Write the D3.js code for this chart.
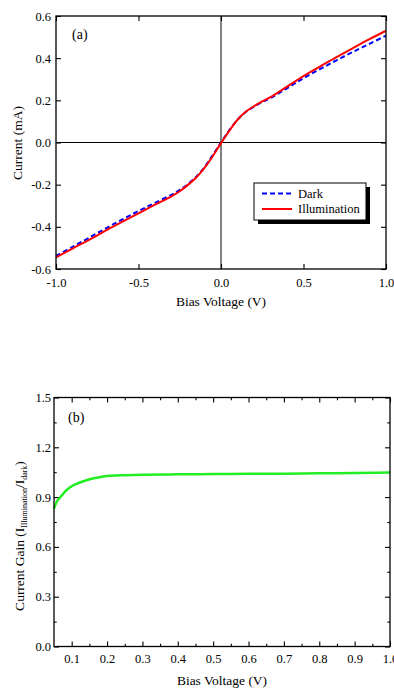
<!DOCTYPE html>
<html>
<head>
<meta charset="utf-8">
<script src="https://cdn.jsdelivr.net/npm/d3@7"></script>
<style>
  body { margin: 0; background: #fff; }
  svg { display: block; font-family: "Liberation Serif", "Times New Roman", serif; }
</style>
</head>
<body>
<script>
// panel (a): I-V curves
var voltage = [-1.0, -0.9, -0.8, -0.7, -0.6, -0.5, -0.4, -0.3, -0.25, -0.2, -0.15, -0.1, -0.05, 0,
  0.05, 0.1, 0.15, 0.2, 0.25, 0.3, 0.4, 0.5, 0.6, 0.7, 0.8, 0.9, 1.0];
var darkCurrent = [-0.538, -0.495, -0.452, -0.408, -0.366, -0.325, -0.286, -0.248, -0.225, -0.197, -0.162, -0.117, -0.06, 0.0,
  0.058, 0.108, 0.145, 0.170, 0.192, 0.211, 0.257, 0.305, 0.348, 0.39, 0.43, 0.468, 0.507];
var illumCurrent = [-0.545, -0.503, -0.462, -0.418, -0.377, -0.336, -0.295, -0.255, -0.231, -0.201, -0.166, -0.12, -0.065, -0.003,
  0.055, 0.108, 0.146, 0.172, 0.195, 0.215, 0.265, 0.315, 0.36, 0.405, 0.448, 0.49, 0.53];
var legendLabels = ["Dark", "Illumination"];
var xTicksA = [-1.0, -0.5, 0.0, 0.5, 1.0];
var yTicksA = [-0.6, -0.4, -0.2, 0.0, 0.2, 0.4, 0.6];

// panel (b): current gain
var gainVoltage = [0.05, 0.055, 0.06, 0.07, 0.08, 0.09, 0.1, 0.12, 0.14, 0.16, 0.18, 0.2, 0.25,
  0.3, 0.4, 0.5, 0.6, 0.7, 0.8, 0.9, 1.0];
var gainValues = [0.83, 0.86, 0.88, 0.905, 0.93, 0.95, 0.965, 0.985, 1.0, 1.012, 1.02, 1.027, 1.032,
  1.035, 1.037, 1.039, 1.04, 1.041, 1.043, 1.045, 1.048];
var xTicksB = [0.1, 0.2, 0.3, 0.4, 0.5, 0.6, 0.7, 0.8, 0.9, 1.0];
var xMinorB = [0.15, 0.25, 0.35, 0.45, 0.55, 0.65, 0.75, 0.85, 0.95];
var yTicksB = [0.0, 0.3, 0.6, 0.9, 1.2, 1.5];
var yMinorB = [0.15, 0.45, 0.75, 1.05, 1.35];

var fmt = function(d) { return d.toFixed(1); };

var svg = d3.select("body").append("svg")
  .attr("width", 394)
  .attr("height", 688);

function frameAxes(g, x, y, w, h, xt, yt, len) {
  g.append("g").attr("transform", "translate(0," + h + ")")
    .call(d3.axisBottom(x).tickValues(xt).tickSize(-len).tickFormat(""));
  g.append("g")
    .call(d3.axisTop(x).tickValues(xt).tickSize(-len).tickFormat(""));
  g.append("g")
    .call(d3.axisLeft(y).tickValues(yt).tickSize(-len).tickFormat(""));
  g.append("g").attr("transform", "translate(" + w + ",0)")
    .call(d3.axisRight(y).tickValues(yt).tickSize(-len).tickFormat(""));
}

function styleAxes(g) {
  g.selectAll(".domain").remove();
  g.selectAll(".tick line").attr("stroke", "#000").attr("stroke-width", 1.1);
  g.selectAll(".tick text").attr("font-family", "Liberation Serif, serif")
    .attr("font-size", 12.5).attr("fill", "#000");
}

// ---------- panel (a) ----------
var wA = 330, hA = 253;
var gA = svg.append("g").attr("transform", "translate(56,16)");
var xA = d3.scaleLinear().domain([-1, 1]).range([0, wA]);
var yA = d3.scaleLinear().domain([-0.6, 0.6]).range([hA, 0]);

frameAxes(gA, xA, yA, wA, hA, xTicksA, yTicksA, 5);
gA.append("g").attr("transform", "translate(0," + hA + ")")
  .call(d3.axisBottom(xA).tickValues(xTicksA).tickSize(0).tickPadding(9).tickFormat(fmt));
gA.append("g")
  .call(d3.axisLeft(yA).tickValues(yTicksA).tickSize(0).tickPadding(5).tickFormat(fmt));
styleAxes(gA);

// zero lines
gA.append("line").attr("x1", xA(0)).attr("x2", xA(0)).attr("y1", 0).attr("y2", hA)
  .attr("stroke", "#000").attr("stroke-width", 1);
gA.append("line").attr("x1", 0).attr("x2", wA).attr("y1", yA(0)).attr("y2", yA(0))
  .attr("stroke", "#000").attr("stroke-width", 1);

var lineA = function(vals) {
  return d3.line()
    .x(function(d, i) { return xA(voltage[i]); })
    .y(function(d) { return yA(d); })
    .curve(d3.curveCatmullRom.alpha(0.5))(vals);
};

gA.append("path").attr("d", lineA(darkCurrent))
  .attr("fill", "none").attr("stroke", "#0000ff").attr("stroke-width", 2)
  .attr("stroke-dasharray", "5,3");
gA.append("path").attr("d", lineA(illumCurrent))
  .attr("fill", "none").attr("stroke", "#ff0000").attr("stroke-width", 2);

gA.append("rect").attr("width", wA).attr("height", hA)
  .attr("fill", "none").attr("stroke", "#000").attr("stroke-width", 1.3);

gA.append("text").attr("x", 16).attr("y", 23).attr("font-size", 14).text("(a)");

// legend
var leg = gA.append("g").attr("transform", "translate(198,167)");
leg.append("rect").attr("x", 4).attr("y", 4).attr("width", 112).attr("height", 37).attr("fill", "#000");
leg.append("rect").attr("width", 112).attr("height", 37)
  .attr("fill", "#fff").attr("stroke", "#000").attr("stroke-width", 1);
legendLabels.forEach(function(lbl, i) {
  var yy = 10.5 + i * 15.5;
  leg.append("line").attr("x1", 8).attr("x2", 38).attr("y1", yy).attr("y2", yy)
    .attr("stroke", i === 0 ? "#0000ff" : "#ff0000").attr("stroke-width", 2)
    .attr("stroke-dasharray", i === 0 ? "5,3" : null);
  leg.append("text").attr("x", 44).attr("y", yy + 4).attr("font-size", 12.5).text(lbl);
});

// axis titles
svg.append("text").attr("x", 221).attr("y", 306).attr("text-anchor", "middle")
  .attr("font-size", 13.5).text("Bias Voltage (V)");
svg.append("text").attr("transform", "translate(22,143) rotate(-90)")
  .attr("text-anchor", "middle").attr("font-size", 13.5).text("Current (mA)");

// ---------- panel (b) ----------
var wB = 336, hB = 249;
var gB = svg.append("g").attr("transform", "translate(54,397.5)");
var xB = d3.scaleLinear().domain([0.05, 1.0]).range([0, wB]);
var yB = d3.scaleLinear().domain([0, 1.5]).range([hB, 0]);

frameAxes(gB, xB, yB, wB, hB, xTicksB, yTicksB, 5);
frameAxes(gB, xB, yB, wB, hB, xMinorB, yMinorB, 2.7);
gB.append("g").attr("transform", "translate(0," + hB + ")")
  .call(d3.axisBottom(xB).tickValues(xTicksB).tickSize(0).tickPadding(8).tickFormat(fmt));
gB.append("g")
  .call(d3.axisLeft(yB).tickValues(yTicksB).tickSize(0).tickPadding(3).tickFormat(fmt));
styleAxes(gB);

gB.append("path")
  .attr("d", d3.line()
    .x(function(d, i) { return xB(gainVoltage[i]); })
    .y(function(d) { return yB(d); })
    .curve(d3.curveMonotoneX)(gainValues))
  .attr("fill", "none").attr("stroke", "#22ee22").attr("stroke-width", 2.5);

gB.append("rect").attr("width", wB).attr("height", hB)
  .attr("fill", "none").attr("stroke", "#000").attr("stroke-width", 1.3);

gB.append("text").attr("x", 14).attr("y", 24).attr("font-size", 14).text("(b)");

svg.append("text").attr("x", 222).attr("y", 685).attr("text-anchor", "middle")
  .attr("font-size", 13.5).text("Bias Voltage (V)");

var gt = svg.append("text").attr("transform", "translate(24,536) rotate(-90)")
  .attr("text-anchor", "middle").attr("font-size", 13.5);
gt.append("tspan").text("Current Gain (I");
gt.append("tspan").attr("font-size", 8).attr("dy", 3).text("Illumination");
gt.append("tspan").attr("dy", -3).text("/I");
gt.append("tspan").attr("font-size", 8).attr("dy", 3).text("dark");
gt.append("tspan").attr("dy", -3).text(")");
</script>
</body>
</html>
